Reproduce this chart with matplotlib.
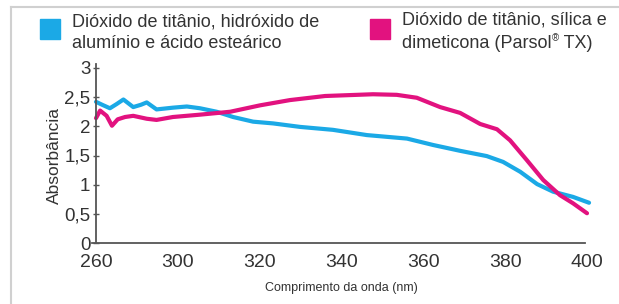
import matplotlib
matplotlib.use("Agg")
import matplotlib.pyplot as plt
from matplotlib.lines import Line2D
from matplotlib.patches import Rectangle

plt.rcParams['font.family'] = ['Liberation Sans', 'DejaVu Sans']

# ---- data (wavelength on displayed scale, absorbance) ----
blue_x = [280, 281.5, 283.4, 285, 286.7, 289.1, 291, 292.4, 294.8, 298.8, 302.2,
          305.4, 309.5, 313.5, 318.4, 323.3, 329.9, 337.9, 346.2, 356, 362.4,
          369, 375.5, 379.5, 383.7, 387.8, 391.7, 396.6, 400.5]
blue_y = [2.42, 2.37, 2.31, 2.38, 2.46, 2.33, 2.37, 2.41, 2.29, 2.32, 2.34,
          2.31, 2.25, 2.16, 2.08, 2.05, 1.99, 1.94, 1.85, 1.79, 1.68,
          1.58, 1.49, 1.39, 1.22, 1.01, 0.88, 0.79, 0.69]

mag_x = [280, 281, 282.6, 283.9, 285.3, 287.1, 289.1, 292.4, 294.8, 298.8, 305.4,
         312.8, 320.1, 327.4, 336, 347.7, 353.5, 358.4, 364.1, 369, 373.9,
         378, 381.2, 385.3, 389.3, 393.4, 396.6, 400]
mag_y = [2.14, 2.27, 2.18, 2.01, 2.12, 2.16, 2.18, 2.13, 2.11, 2.16, 2.20,
         2.25, 2.36, 2.45, 2.52, 2.55, 2.54, 2.49, 2.33, 2.23, 2.04,
         1.95, 1.76, 1.42, 1.08, 0.82, 0.68, 0.51]

x_tick_pos = [280, 300, 320, 340, 360, 380, 400]
x_tick_labels = ['260', '300', '320', '340', '360', '380', '400']
y_ticks = [0, 0.5, 1, 1.5, 2, 2.5, 3]
y_tick_labels = ['0', '0,5', '1', '1,5', '2', '2,5', '3']

legend1_lines = ['Dióxido de titânio, hidróxido de', 'alumínio e ácido esteárico']
legend2_lines = ['Dióxido de titânio, sílica e', 'dimeticona (Parsol', '®', ' TX)']
colors = ['#1BA9E6', '#E2127F']
text_color = '#333333'

W, H = 619, 304
fig = plt.figure(figsize=(W / 100, H / 100), dpi=100)

left, right, bottom, top = 96, 587, 243, 68
ax = fig.add_axes([left / W, 1 - bottom / H, (right - left) / W, (bottom - top) / H])
ax.set_xlim(280, 400)
ax.set_ylim(0, 3)

ax.plot(blue_x, blue_y, color=colors[0], lw=3.0, solid_joinstyle='round',
        solid_capstyle='round', clip_on=False)
ax.plot(mag_x, mag_y, color=colors[1], lw=3.0, solid_joinstyle='round',
        solid_capstyle='round', clip_on=False)

for s in ['top', 'right']:
    ax.spines[s].set_visible(False)
for s in ['left', 'bottom']:
    ax.spines[s].set_color('#555555')
    ax.spines[s].set_linewidth(1.3)
ax.spines['left'].set_bounds(0, 3.07)
ax.spines['bottom'].set_bounds(279, 399.5)

ax.set_xticks(x_tick_pos)
ax.set_xticklabels(x_tick_labels, fontsize=14, color=text_color)
ax.set_yticks(y_ticks)
ax.set_yticklabels(y_tick_labels, fontsize=13.5, color=text_color)
ax.tick_params(axis='x', length=0, pad=8)
ax.tick_params(axis='y', length=4, direction='inout', width=1, color='#555555', pad=2)

ax.set_ylabel('Absorbância', fontsize=12.5, color=text_color, labelpad=2)
ax.set_xlabel('Comprimento da onda (nm)', fontsize=9, color=text_color, labelpad=8)


def fx(px):
    return px / W


def fy(py):
    return 1 - py / H


# legend drawn manually in figure pixel coordinates
fig.patches.append(Rectangle((fx(40), fy(39)), 20 / W, 20 / H, transform=fig.transFigure,
                             color=colors[0], zorder=5))
fig.patches.append(Rectangle((fx(370), fy(39)), 20 / W, 20 / H, transform=fig.transFigure,
                             color=colors[1], zorder=5))
lfs = 13
fig.text(fx(72), fy(22), legend1_lines[0], fontsize=lfs, color=text_color, va='center', ha='left')
fig.text(fx(72), fy(44), legend1_lines[1], fontsize=lfs, color=text_color, va='center', ha='left')
fig.text(fx(402), fy(20), legend2_lines[0], fontsize=lfs, color=text_color, va='center', ha='left')
t2 = fig.text(fx(402), fy(43), legend2_lines[1], fontsize=lfs, color=text_color,
              va='center', ha='left')
t3 = fig.text(0, 0, legend2_lines[2], fontsize=7, color=text_color, va='top', ha='left')
t3.set_position((0, 0))
t3.remove()
r = fig.canvas.get_renderer()
bb = t2.get_window_extent(renderer=r)
t3 = fig.text((bb.x1 + 0.5) / W, (bb.y1 + 1) / H, legend2_lines[2], fontsize=7,
              color=text_color, va='top', ha='left')
bb3 = t3.get_window_extent(renderer=r)
fig.text((bb3.x1) / W, fy(43), legend2_lines[3], fontsize=lfs, color=text_color,
         va='center', ha='left')

# light frame (top and left)
fig.add_artist(Line2D([fx(11), 1], [fy(7), fy(7)], transform=fig.transFigure,
                      color='#d0d0d0', lw=1.5))
fig.add_artist(Line2D([fx(11), fx(11)], [fy(7), 0], transform=fig.transFigure,
                      color='#d0d0d0', lw=1.5))

fig.savefig('out.png', dpi=100)
